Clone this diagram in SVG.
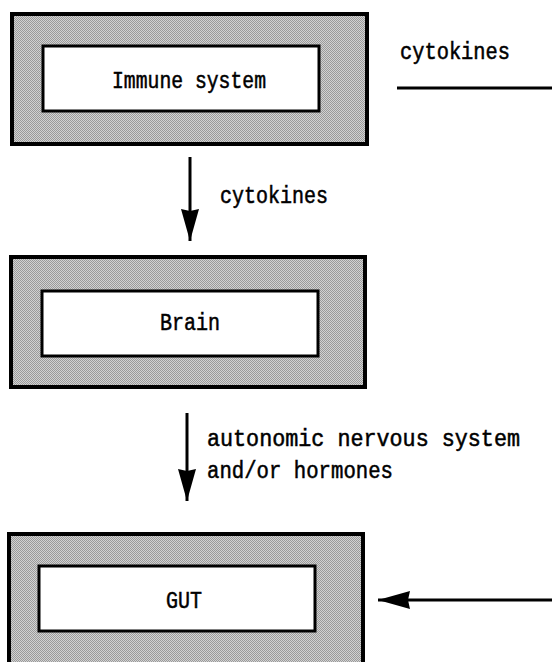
<svg xmlns="http://www.w3.org/2000/svg" width="552" height="662" viewBox="0 0 552 662">
<defs>
<pattern id="dots" width="2" height="2" patternUnits="userSpaceOnUse">
<rect width="2" height="2" fill="#d2d2d2"/>
<rect width="1" height="1" fill="#9a9a9a"/>
<rect x="1" y="1" width="1" height="1" fill="#9a9a9a"/>
</pattern>
<marker id="ah" markerUnits="userSpaceOnUse" markerWidth="34" markerHeight="20" refX="32" refY="9" orient="auto">
<path d="M0,0 L32,9 L0,18 L2,9 Z" fill="#000"/>
</marker>
</defs>
<style>
.outer{fill:url(#dots);stroke:#000;stroke-width:4}
.inner{fill:#fff;stroke:#000;stroke-width:3}
.t{font-family:"Liberation Mono","DejaVu Sans Mono",monospace;font-size:23px;fill:#000;stroke:#000;stroke-width:0.5}
.c{stroke:#000;stroke-width:3;fill:none}
</style>
<rect width="552" height="662" fill="#fff"/>
<g id="immune">
<rect class="outer" x="12" y="14" width="355" height="130"/>
<rect class="inner" x="43" y="46" width="276" height="65"/>
<text class="t" x="112" y="88" textLength="154" lengthAdjust="spacingAndGlyphs">Immune system</text>
</g>
<g id="brain">
<rect class="outer" x="11" y="257" width="354" height="130"/>
<rect class="inner" x="42" y="291" width="276" height="65"/>
<text class="t" x="160" y="330" textLength="60" lengthAdjust="spacingAndGlyphs">Brain</text>
</g>
<g id="gut">
<rect class="outer" x="9" y="534" width="354" height="132"/>
<rect class="inner" x="39" y="566" width="276" height="65"/>
<text class="t" x="166" y="608" textLength="36" lengthAdjust="spacingAndGlyphs">GUT</text>
</g>
<g id="connectors">
<line class="c" x1="397" y1="88" x2="552" y2="88"/>
<text class="t" x="400" y="59" textLength="110" lengthAdjust="spacingAndGlyphs">cytokines</text>
<line class="c" x1="190" y1="157" x2="190" y2="241" marker-end="url(#ah)"/>
<text class="t" x="220" y="203" textLength="108" lengthAdjust="spacingAndGlyphs">cytokines</text>
<line class="c" x1="187" y1="413" x2="187" y2="501" marker-end="url(#ah)"/>
<text class="t" x="207" y="446" textLength="313" lengthAdjust="spacingAndGlyphs">autonomic nervous system</text>
<text class="t" x="207" y="478" textLength="186" lengthAdjust="spacingAndGlyphs">and/or hormones</text>
<line class="c" x1="552" y1="600" x2="378" y2="600" marker-end="url(#ah)"/>
</g>
</svg>
